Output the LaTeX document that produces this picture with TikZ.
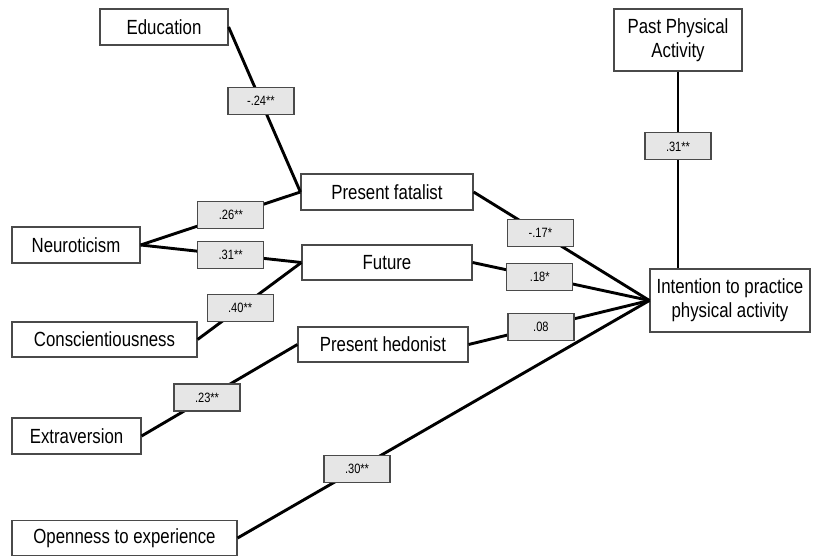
\documentclass[tikz,border=0pt]{standalone}
\usepackage{fontspec}
\setmainfont{Liberation Sans}[FakeStretch=0.82]
\definecolor{boxline}{HTML}{4A4A4A}
\definecolor{labfill}{HTML}{E6E6E6}
\begin{document}
\begin{tikzpicture}[x=1pt,y=-1pt,
  var/.style={draw=boxline,line width=1.2pt,fill=white,inner sep=0pt,align=center,
    font=\fontsize{20.5}{24}\selectfont},
  coef/.style={draw=boxline,line width=1.2pt,fill=labfill,inner sep=0pt,
    minimum width=66pt,minimum height=27pt,font=\fontsize{13.5}{15}\selectfont},
  path/.style={line width=2.9pt,black}]
\useasboundingbox[fill=white] (0,0) rectangle (814,556);
% variable boxes
\node[var,minimum width=128pt,minimum height=36pt] (edu) at (164,27) {Education};
\node[var,minimum width=172pt,minimum height=36pt] (pf) at (387,192) {Present fatalist};
\node[var,minimum width=128pt,minimum height=36pt] (neur) at (76,245) {Neuroticism};
\node[var,minimum width=170pt,minimum height=35pt] (fut) at (387,262.5) {Future};
\node[var,minimum width=185pt,minimum height=35pt] (consc) at (104.5,339.5) {Conscientiousness};
\node[var,minimum width=170pt,minimum height=35pt] (ph) at (383,344.5) {Present hedonist};
\node[var,minimum width=129pt,minimum height=36pt] (extra) at (76.5,436) {Extraversion};
\node[var,minimum width=225pt,minimum height=35pt] (open) at (124.5,538) {Openness to experience};
\node[var,minimum width=128pt,minimum height=62pt] (ppa) at (678,40) {Past Physical\\Activity};
\node[var,minimum width=160pt,minimum height=63pt] (int) at (730,300.5) {Intention to practice\\physical activity};
% paths with coefficients
\draw[path] (edu.east) -- node[coef,pos=0.45] {-.24**} (pf.west);
\draw[path] (neur.east) -- node[coef,pos=0.565] {.26**} (pf.west);
\draw[path] (neur.east) -- node[coef,pos=0.56] {.31**} (fut.west);
\draw[path] (consc.east) -- node[coef,pos=0.41] {.40**} (fut.west);
\draw[path] (extra.east) -- node[coef,pos=0.42] {.23**} (ph.west);
\draw[path] (open.east) -- node[coef,pos=0.29] {.30**} (int.west);
\draw[path] (pf.east) -- node[coef,pos=0.38] {-.17*} (int.west);
\draw[path] (fut.east) -- node[coef,pos=0.38] {.18*} (int.west);
\draw[path] (ph.east) -- node[coef,pos=0.40] {.08} (int.west);
\draw[path] (ppa.south) -- node[coef,pos=0.38] {.31**} (ppa.south |- int.north);
\end{tikzpicture}
\end{document}
